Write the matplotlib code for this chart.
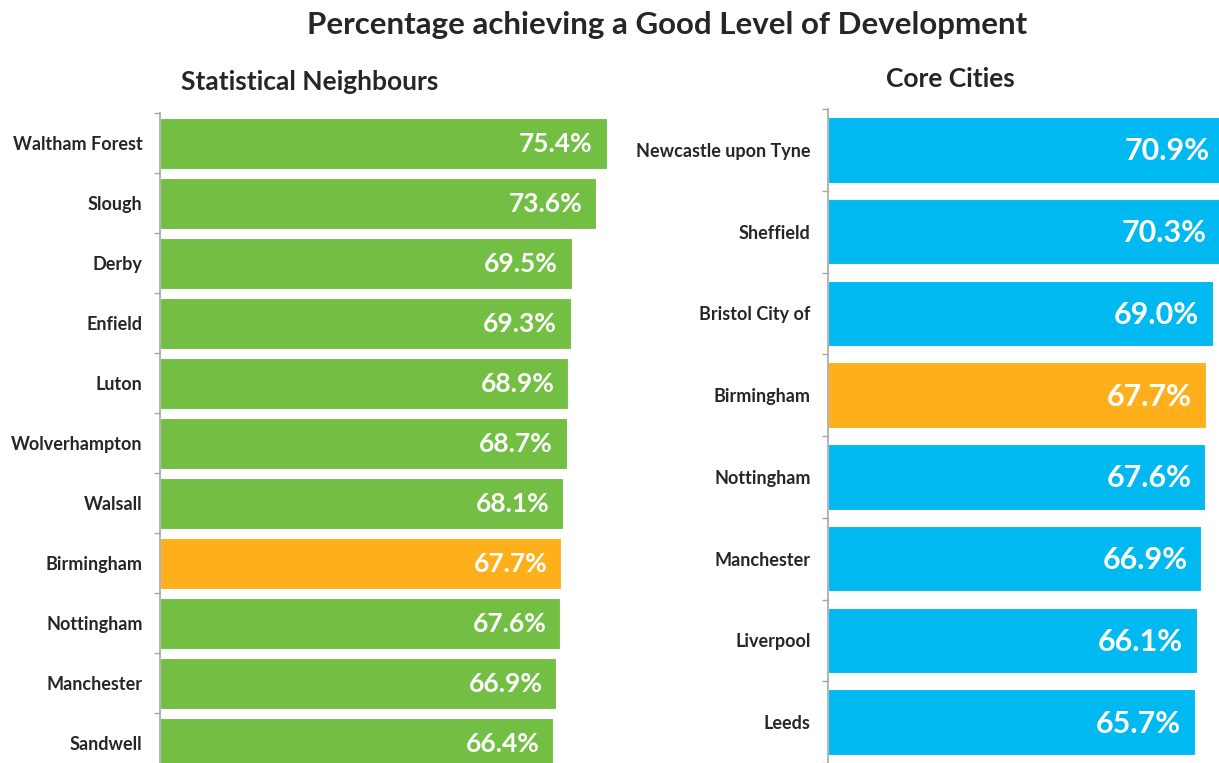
import matplotlib
matplotlib.use("Agg")
import matplotlib.pyplot as plt

# Statistical neighbours
sn_names = ["Waltham Forest", "Slough", "Derby", "Enfield", "Luton", "Wolverhampton",
            "Walsall", "Birmingham", "Nottingham", "Manchester", "Sandwell"]
sn_values = [75.4, 73.6, 69.5, 69.3, 68.9, 68.7, 68.1, 67.7, 67.6, 66.9, 66.4]

# Core cities
cc_names = ["Newcastle upon Tyne", "Sheffield", "Bristol City of", "Birmingham",
            "Nottingham", "Manchester", "Liverpool", "Leeds"]
cc_values = [70.9, 70.3, 69.0, 67.7, 67.6, 66.9, 66.1, 65.7]

highlight = "Birmingham"
GREEN = "#72BF44"
BLUE = "#00B9F1"
ORANGE = "#FDB01B"
TEXT = "#262626"
AXIS = "#A6A6A6"

plt.rcParams["font.family"] = ["Lato", "DejaVu Sans"]

W, H = 1219, 763
fig = plt.figure(figsize=(W / 100, H / 100), dpi=100)


def px_axes(left, top, right, bottom):
    return fig.add_axes([left / W, 1 - bottom / H, (right - left) / W, (bottom - top) / H])


def draw(ax, names, values, color, xmax, bar_h, label_fs, name_fs):
    n = len(names)
    cols = [ORANGE if nm == highlight else color for nm in names]
    ys = list(range(n))
    ax.barh(ys, values, height=bar_h, color=cols, edgecolor="#FFFFFF",
            linewidth=0.8)
    ax.set_xlim(0, xmax)
    ax.set_ylim(n - 0.5, -0.5)
    ax.set_yticks(ys)
    ax.set_yticklabels(names, fontsize=name_fs, fontweight="bold", color=TEXT)
    ax.set_yticks([i - 0.5 for i in range(n + 1)], minor=True)
    ax.tick_params(axis="y", which="major", length=0, pad=12.5)
    ax.tick_params(axis="y", which="minor", length=4, color=AXIS, width=1)
    ax.set_xticks([])
    for s in ("top", "right", "bottom"):
        ax.spines[s].set_visible(False)
    ax.spines["left"].set_color(AXIS)
    ax.spines["left"].set_linewidth(1.2)
    for y, v in zip(ys, values):
        ax.annotate(f"{v:.1f}%", xy=(v, y), xytext=(-10, -1), textcoords="offset points",
                    ha="right", va="center", color="white", fontsize=label_fs,
                    fontweight="bold")


ax1 = px_axes(160, 113, 160 + 5.924 * 80, 773)
draw(ax1, sn_names, sn_values, GREEN, 80, 0.85, 19, 13)

ax2 = px_axes(828, 109, 828 + 5.58 * 72, 763)
draw(ax2, cc_names, cc_values, BLUE, 72, 0.8, 22, 13)

fig.text(667 / W, 1 - 25 / H, "Percentage achieving a Good Level of Development",
         ha="center", va="center", fontsize=22.5, fontweight="bold", color=TEXT)
fig.text(310 / W, 1 - 82 / H, "Statistical Neighbours", ha="center", va="center",
         fontsize=19, fontweight="bold", color=TEXT)
fig.text(950 / W, 1 - 79 / H, "Core Cities", ha="center", va="center",
         fontsize=19, fontweight="bold", color=TEXT)

fig.savefig("out.png", dpi=100, facecolor="white")
